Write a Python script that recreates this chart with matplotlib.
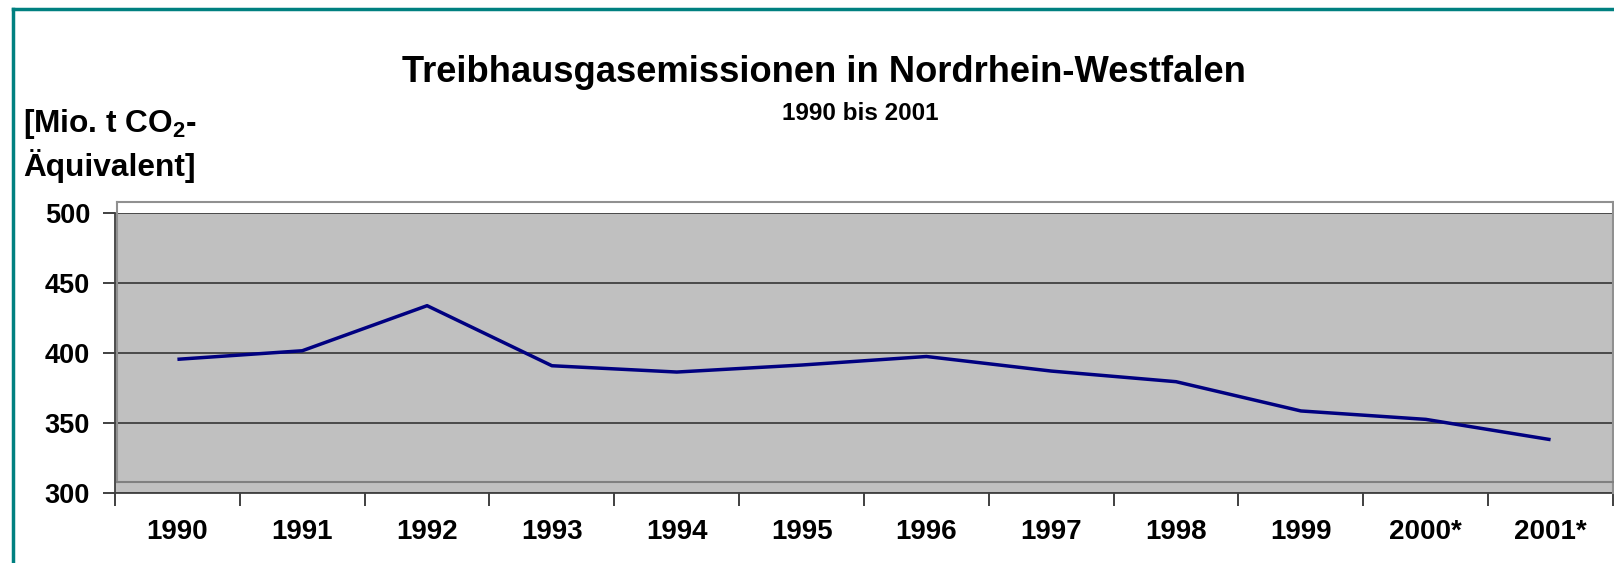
import numpy as np
import matplotlib
matplotlib.use("Agg")
import matplotlib.pyplot as plt
from matplotlib.lines import Line2D
from matplotlib.patches import Rectangle

years = ["1990", "1991", "1992", "1993", "1994", "1995",
         "1996", "1997", "1998", "1999", "2000*", "2001*"]
emissions = [395.5, 401.6, 433.8, 390.9, 386.4, 391.4,
             397.5, 387.1, 379.5, 358.6, 352.6, 338.1]
y_ticks = [300, 350, 400, 450, 500]

plt.rcParams['font.family'] = ['Liberation Sans', 'DejaVu Sans']
plt.rcParams['font.weight'] = 'bold'
plt.rcParams['mathtext.fontset'] = 'custom'
plt.rcParams['mathtext.rm'] = 'Liberation Sans:bold'
plt.rcParams['mathtext.bf'] = 'Liberation Sans:bold'

W, H = 1615, 563
fig = plt.figure(figsize=(W / 100, H / 100), dpi=100)

def fx(px):
    return px / W

def fy(py):
    return 1 - py / H

# plot area in pixels: x 115..1613, y 213 (500) .. 493 (300)
ax = fig.add_axes([fx(115), fy(493), fx(1613) - fx(115), fy(213) - fy(493)])
ax.set_facecolor('#c0c0c0')

x = np.arange(len(years)) + 0.5
ax.plot(x, emissions, color='#000080', linewidth=2.5, solid_capstyle='butt', zorder=3)

ax.set_xlim(0, len(years))
ax.set_ylim(300, 500)
ax.set_yticks(y_ticks)
ax.set_yticklabels([str(v) for v in y_ticks], fontsize=19.5, fontweight='bold')
ax.yaxis.grid(True, color='#404040', linewidth=1.3)
ax.set_axisbelow(True)

ax.set_xticks(np.arange(len(years) + 1))
ax.set_xticklabels([])
ax.set_xticks(x, minor=True)
ax.set_xticklabels(years, minor=True, fontsize=20, fontweight='bold')
ax.tick_params(axis='x', which='major', length=9, width=1.2, color='#202020', direction='out')
ax.tick_params(axis='x', which='minor', length=0, pad=19)
ax.tick_params(axis='y', length=9, width=1.2, color='#202020', pad=9)

for s in ['top', 'right']:
    ax.spines[s].set_visible(False)
ax.spines['left'].set_color('#404040')
ax.spines['left'].set_linewidth(1.3)
ax.spines['bottom'].set_color('#404040')
ax.spines['bottom'].set_linewidth(1.3)

# 3D-looking wall frame (Excel style)
fig.add_artist(Rectangle((fx(117), fy(213)), fx(1613) - fx(117), fy(202) - fy(213),
                         transform=fig.transFigure, facecolor='white',
                         edgecolor='none', zorder=5))
frame = dict(transform=fig.transFigure, color='#909090', linewidth=1.5, zorder=6)
fig.add_artist(Line2D([fx(117), fx(1613)], [fy(202), fy(202)], **frame))
fig.add_artist(Line2D([fx(117), fx(117)], [fy(202), fy(482)], **frame))
fig.add_artist(Line2D([fx(1613), fx(1613)], [fy(202), fy(493)], **frame))
fig.add_artist(Line2D([fx(117), fx(1613)], [fy(482), fy(482)], color='#808080',
                      linewidth=1.5, transform=fig.transFigure, zorder=6))

# titles
fig.text(fx(824), fy(73), 'Treibhausgasemissionen in Nordrhein-Westfalen',
         ha='center', va='center', fontsize=26.2, fontweight='bold')
fig.text(fx(860), fy(113), '1990 bis 2001', ha='center', va='center',
         fontsize=17.5, fontweight='bold')

# unit label
fig.text(fx(23), fy(124), r'[Mio. t CO$_2$-', ha='left', va='center',
         fontsize=22.8, fontweight='bold')
fig.text(fx(23), fy(166), 'Äquivalent]', ha='left', va='center',
         fontsize=22.8, fontweight='bold')

# teal chart border (left and top)
border = dict(transform=fig.transFigure, color='#008080', linewidth=2.5, zorder=10)
fig.add_artist(Line2D([fx(13), fx(13)], [fy(9), 0], **border))
fig.add_artist(Line2D([fx(13), 1], [fy(9), fy(9)], **border))

fig.savefig('out.png', dpi=100)
